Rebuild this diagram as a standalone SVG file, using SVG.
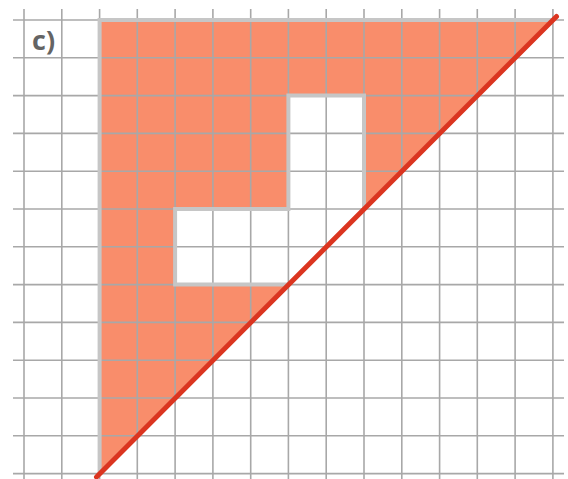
<svg xmlns="http://www.w3.org/2000/svg" width="568" height="479" viewBox="0 0 568 479">
  <style>
    .grid line { stroke: #a8a8a8; stroke-width: 1.6; }
    .label { font-family: "Open Sans", "Liberation Sans", sans-serif; font-weight: bold; font-size: 27px; fill: #646464; }
  </style>
  <rect width="568" height="479" fill="#ffffff"/>
  <g id="region">
    <path id="fill" d="M99.6,20 L552.9,20 L364,209 L364,95.6 L288.4,95.6 L288.4,209 L175.1,209 L175.1,284.6 L288.4,284.6 L99.6,473.6 Z" fill="#f98d6b"/>
  </g>
  <g id="grid" class="grid">
    <line x1="24" y1="9" x2="24" y2="479"/>
    <line x1="61.8" y1="9" x2="61.8" y2="479"/>
    <line x1="99.6" y1="9" x2="99.6" y2="479"/>
    <line x1="137.3" y1="9" x2="137.3" y2="479"/>
    <line x1="175.1" y1="9" x2="175.1" y2="479"/>
    <line x1="212.9" y1="9" x2="212.9" y2="479"/>
    <line x1="250.7" y1="9" x2="250.7" y2="479"/>
    <line x1="288.4" y1="9" x2="288.4" y2="479"/>
    <line x1="326.2" y1="9" x2="326.2" y2="479"/>
    <line x1="364" y1="9" x2="364" y2="479"/>
    <line x1="401.8" y1="9" x2="401.8" y2="479"/>
    <line x1="439.6" y1="9" x2="439.6" y2="479"/>
    <line x1="477.3" y1="9" x2="477.3" y2="479"/>
    <line x1="515.1" y1="9" x2="515.1" y2="479"/>
    <line x1="552.9" y1="9" x2="552.9" y2="479"/>
    <line x1="13" y1="20" x2="564" y2="20"/>
    <line x1="13" y1="57.8" x2="564" y2="57.8"/>
    <line x1="13" y1="95.6" x2="564" y2="95.6"/>
    <line x1="13" y1="133.4" x2="564" y2="133.4"/>
    <line x1="13" y1="171.2" x2="564" y2="171.2"/>
    <line x1="13" y1="209" x2="564" y2="209"/>
    <line x1="13" y1="246.8" x2="564" y2="246.8"/>
    <line x1="13" y1="284.6" x2="564" y2="284.6"/>
    <line x1="13" y1="322.4" x2="564" y2="322.4"/>
    <line x1="13" y1="360.2" x2="564" y2="360.2"/>
    <line x1="13" y1="398" x2="564" y2="398"/>
    <line x1="13" y1="435.8" x2="564" y2="435.8"/>
    <line x1="13" y1="473.6" x2="564" y2="473.6"/>
  </g>
  <g id="border">
    <path d="M99.6,20 L552.9,20 L364,209 L364,95.6 L288.4,95.6 L288.4,209 L175.1,209 L175.1,284.6 L288.4,284.6 L99.6,473.6 Z" fill="none" stroke="#c6c6c6" stroke-width="4" stroke-linejoin="miter"/>
  </g>
  <g id="diagonal">
    <line x1="96.5" y1="477" x2="556.5" y2="16.5" stroke="#db3520" stroke-width="5" stroke-linecap="round"/>
  </g>
  <g id="label">
    <text class="label" x="32" y="50">c)</text>
  </g>
</svg>
